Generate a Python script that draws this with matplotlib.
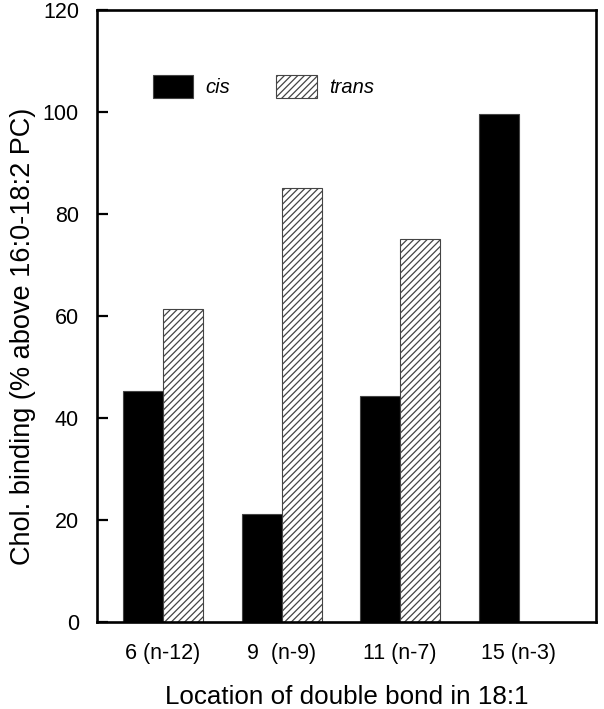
import matplotlib
matplotlib.use("Agg")
import matplotlib.pyplot as plt
import numpy as np

plt.rcParams['font.family'] = ['Liberation Sans', 'DejaVu Sans']
plt.rcParams['hatch.linewidth'] = 0.9

categories = ["6 (n-12)", "9  (n-9)", "11 (n-7)", "15 (n-3)"]
cis_values = [45.2, 21.2, 44.4, 99.7]
trans_values = [61.3, 85.1, 75.1, 0.0]
series_names = ["cis", "trans"]

fig = plt.figure(figsize=(6.04, 7.09), dpi=100)
ax = fig.add_axes([97/604, 1-622/709, (596-97)/604, (622-10)/709])

x = np.arange(len(categories))
w = 0.337
b1 = ax.bar(x - w/2, cis_values, width=w, color='black', edgecolor='#444444', linewidth=0.8,
            label=series_names[0])
b2 = ax.bar(x + w/2, trans_values, width=w, color='white', edgecolor='#444444', linewidth=0.8,
            hatch='/////', label=series_names[1])

ax.set_xlim(-0.556, 3.65)
ax.set_ylim(0, 120)
ax.set_yticks([0, 20, 40, 60, 80, 100, 120])
ax.set_xticks(x)
ax.set_xticklabels(categories)

for s in ax.spines.values():
    s.set_linewidth(1.9)

ax.tick_params(axis='y', direction='in', length=8, width=1.6, labelsize=15.5, pad=13)
ax.tick_params(axis='x', length=0, labelsize=15.5, pad=15)

ax.set_xlabel("Location of double bond in 18:1", fontsize=18.7, labelpad=15)
ax.set_ylabel("Chol. binding (% above 16:0-18:2 PC)", fontsize=19.5)
ax.yaxis.set_label_coords(-(97 - 36) / 499, 0.467)

leg = ax.legend(handles=[b1, b2], ncol=2, loc='upper left', bbox_to_anchor=(0.112, 0.894),
                frameon=False, prop={'style': 'italic', 'size': 14.5},
                handlelength=2.0, handleheight=1.4, handletextpad=0.6,
                columnspacing=2.3, borderpad=0, borderaxespad=0)

fig.savefig("out.png", dpi=100)
